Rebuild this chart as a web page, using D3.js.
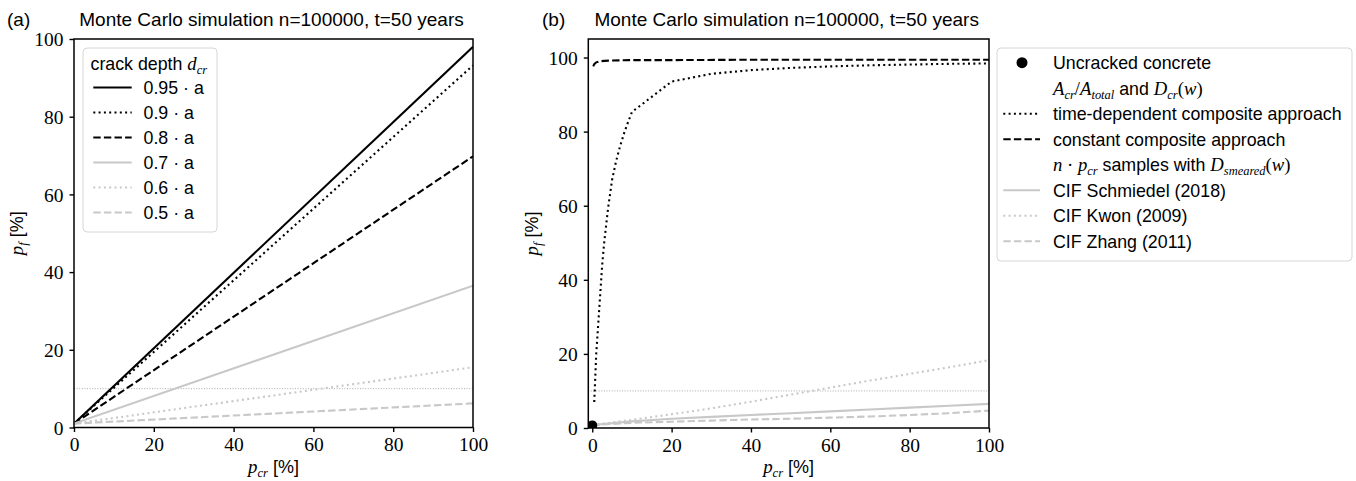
<!DOCTYPE html>
<html>
<head>
<meta charset="utf-8">
<script src="https://cdn.jsdelivr.net/npm/d3@7"></script>
<style>
  body { margin: 0; background: #fff; }
  svg { display: block; }
  .sans { font-family: "Liberation Sans", Arial, sans-serif; }
  .serif { font-family: "Liberation Serif", "Times New Roman", serif; }
</style>
</head>
<body>
<svg id="chart" width="1356" height="481"></svg>
<script>
// panel (a): failure probability vs cracked share for several crack depths
const pCrA = [0, 100];
const pf095 = [1.0, 98.0];
const pf09 = [1.0, 93.2];
const pf08 = [1.0, 69.8];
const pf07 = [1.0, 36.5];
const pf06 = [1.0, 15.5];
const pf05 = [1.0, 6.2];
const depthLabels = ['0.95', '0.9', '0.8', '0.7', '0.6', '0.5'];

// panel (b)
const uncracked = [0, 0.7];
const pCrTime = [0.5, 1, 1.5, 2, 2.5, 3, 4, 5, 6, 7, 8, 9, 10, 20, 30, 40, 50, 60, 70, 80, 90, 100];
const pfTime = [7, 20, 28, 36, 44, 50, 59.5, 67, 72, 76, 79.5, 82.5, 85.3, 93.5, 95.6, 96.6, 97.2, 97.6, 97.9, 98.1, 98.3, 98.4];
const pCrConst = [0.25, 0.5, 1, 2, 3, 5, 10, 20, 40, 60, 80, 100];
const pfConst = [97.6, 98.2, 98.7, 99.0, 99.1, 99.2, 99.3, 99.3, 99.4, 99.4, 99.4, 99.4];
const pCrCif = [0, 10, 20, 30, 40, 50, 60, 70, 80, 90, 100];
const pfSchmiedel = [0.8, 1.8, 2.5, 3.0, 3.5, 4.0, 4.5, 5.0, 5.5, 6.0, 6.5];
const pfKwon = [0.8, 2.2, 3.7, 5.3, 7.1, 9.0, 10.9, 12.8, 14.6, 16.4, 18.3];
const pfZhang = [0.8, 1.4, 1.7, 2.0, 2.3, 2.5, 2.8, 3.1, 3.5, 4.0, 4.7];

const ticks = [0, 20, 40, 60, 80, 100];
const threshold = 10;
const title = 'Monte Carlo simulation n=100000, t=50 years';

const GRAY = '#c8c8c8';
const styles = {
  solid: null,
  dotted: '2,3.3',
  dashed: '7.4,3.2'
};

const svg = d3.select('#chart');

// writes a label made of sans text and LaTeX-like math pieces
function richText(sel, parts, size, drop = 4) {
  let shifted = 0;
  parts.forEach(([txt, kind]) => {
    const t = sel.append('tspan').text(txt);
    if (kind === 's') {
      t.attr('class', 'sans');
    } else {
      t.attr('class', 'serif');
      if (kind !== 'r') t.attr('font-style', 'italic');
    }
    if (kind === 'sub') {
      t.attr('font-size', size * 0.7).attr('dy', drop - shifted);
      shifted = drop;
    } else {
      if (shifted) t.attr('dy', -shifted);
      shifted = 0;
      t.attr('font-size', kind === 's' ? size : size * 1.05);
    }
  });
}

function makePanel(cfg) {
  const x = d3.scaleLinear().domain(cfg.xDomain).range([cfg.left, cfg.right]);
  const y = d3.scaleLinear().domain(cfg.yDomain).range([cfg.bottom, cfg.top]);
  const g = svg.append('g');

  g.append('clipPath').attr('id', 'clip-' + cfg.id)
    .append('rect')
    .attr('x', cfg.left).attr('y', cfg.top)
    .attr('width', cfg.right - cfg.left).attr('height', cfg.bottom - cfg.top);

  const plot = g.append('g').attr('clip-path', `url(#clip-${cfg.id})`);

  // 10 % reference line
  plot.append('line')
    .attr('x1', cfg.left).attr('x2', cfg.right)
    .attr('y1', y(threshold)).attr('y2', y(threshold))
    .attr('stroke', '#888').attr('stroke-width', 0.7)
    .attr('stroke-dasharray', '1,1.6');

  const xAxis = g.append('g')
    .attr('transform', `translate(0,${cfg.bottom})`)
    .call(d3.axisBottom(x).tickValues(ticks).tickSize(4.5).tickPadding(5));
  const yAxis = g.append('g')
    .attr('transform', `translate(${cfg.left},0)`)
    .call(d3.axisLeft(y).tickValues(ticks).tickSize(4.5).tickPadding(6));
  [xAxis, yAxis].forEach(a => {
    a.select('.domain').remove();
    a.selectAll('.tick line').attr('stroke', '#000').attr('stroke-width', 1.4);
    a.selectAll('.tick text')
      .attr('class', 'serif')
      .attr('font-size', 19.5)
      .attr('fill', '#000');
  });
  xAxis.selectAll('.tick text').attr('dy', '0.72em');
  yAxis.selectAll('.tick text').attr('dy', '0.34em');

  g.append('rect')
    .attr('x', cfg.left).attr('y', cfg.top)
    .attr('width', cfg.right - cfg.left).attr('height', cfg.bottom - cfg.top)
    .attr('fill', 'none').attr('stroke', '#000').attr('stroke-width', 1.5);

  // labels
  g.append('text').attr('class', 'sans').attr('font-size', 19)
    .attr('x', cfg.tagX).attr('y', 26).text(cfg.tag);
  g.append('text').attr('class', 'sans').attr('font-size', 19)
    .attr('text-anchor', 'middle')
    .attr('x', (cfg.left + cfg.right) / 2 - 2).attr('y', 26).text(title);

  const xl = g.append('text').attr('text-anchor', 'middle')
    .attr('x', (cfg.left + cfg.right) / 2).attr('y', 473);
  richText(xl, [['p', 'i'], ['cr', 'sub'], [' [%]', 's']], 18, 3.5);

  const yl = g.append('text').attr('text-anchor', 'middle')
    .attr('transform', `translate(${cfg.yLabelX},${(cfg.top + cfg.bottom) / 2}) rotate(-90)`);
  richText(yl, [['p', 'i'], ['f', 'sub'], [' [%]', 's']], 18);

  return { x, y, plot };
}

function drawSeries(panel, xs, ys, color, dash) {
  const line = d3.line().x(d => panel.x(d[0])).y(d => panel.y(d[1]));
  panel.plot.append('path')
    .datum(xs.map((v, i) => [v, ys[i]]))
    .attr('d', line)
    .attr('fill', 'none')
    .attr('stroke', color)
    .attr('stroke-width', 2.1)
    .attr('stroke-dasharray', dash);
}

function legendHandle(g, x1, x2, yy, color, dash) {
  g.append('line')
    .attr('x1', x1).attr('x2', x2).attr('y1', yy).attr('y2', yy)
    .attr('stroke', color).attr('stroke-width', 2.1)
    .attr('stroke-dasharray', dash);
}

// ---- panel (a)
const pa = makePanel({
  id: 'a', tag: '(a)', tagX: 7, yLabelX: 23,
  left: 74, right: 473, top: 39, bottom: 427.5,
  xDomain: [0, 100], yDomain: [0, 100]
});

const seriesA = [
  [pf095, '#000', styles.solid],
  [pf09, '#000', styles.dotted],
  [pf08, '#000', styles.dashed],
  [pf07, GRAY, styles.solid],
  [pf06, GRAY, styles.dotted],
  [pf05, GRAY, styles.dashed]
];
seriesA.forEach(s => drawSeries(pa, pCrA, s[0], s[1], s[2]));

const legA = svg.append('g');
legA.append('rect')
  .attr('x', 83).attr('y', 48).attr('width', 134).attr('height', 184)
  .attr('rx', 4).attr('fill', '#fff').attr('fill-opacity', 0.8)
  .attr('stroke', '#d6d6d6').attr('stroke-width', 1);
const legATitle = legA.append('text').attr('x', 90.5).attr('y', 69.5);
richText(legATitle, [['crack depth ', 's'], ['d', 'i'], ['cr', 'sub']], 17.8);
seriesA.forEach((s, i) => {
  const yy = 87.5 + 25 * i;
  legendHandle(legA, 93.3, 131.7, yy, s[1], s[2]);
  legA.append('text').attr('class', 'sans').attr('font-size', 17.8)
    .attr('x', 143.5).attr('y', yy + 6.3)
    .text(depthLabels[i] + ' \u00b7 a');
});

// ---- panel (b)
const pb = makePanel({
  id: 'b', tag: '(b)', tagX: 542, yLabelX: 538,
  left: 588.3, right: 989, top: 39, bottom: 428,
  xDomain: [-1, 100], yDomain: [0, 105]
});

drawSeries(pb, pCrCif, pfSchmiedel, GRAY, styles.solid);
drawSeries(pb, pCrCif, pfKwon, GRAY, styles.dotted);
drawSeries(pb, pCrCif, pfZhang, GRAY, styles.dashed);
drawSeries(pb, pCrTime, pfTime, '#000', styles.dotted);
drawSeries(pb, pCrConst, pfConst, '#000', styles.dashed);
pb.plot.append('circle')
  .attr('cx', pb.x(uncracked[0])).attr('cy', pb.y(uncracked[1]))
  .attr('r', 5).attr('fill', '#000');

const legB = svg.append('g');
legB.append('rect')
  .attr('x', 997).attr('y', 48).attr('width', 355).attr('height', 213)
  .attr('rx', 4).attr('fill', '#fff').attr('fill-opacity', 0.8)
  .attr('stroke', '#d6d6d6').attr('stroke-width', 1);

const legBRows = [
  { handle: 'dot', parts: [['Uncracked concrete', 's']] },
  { handle: null, parts: [['A', 'i'], ['cr', 'sub'], ['/', 'r'], ['A', 'i'], ['total', 'sub'], [' and ', 's'], ['D', 'i'], ['cr', 'sub'], ['(', 'r'], ['w', 'i'], [')', 'r']] },
  { handle: ['#000', styles.dotted], parts: [['time-dependent composite approach', 's']] },
  { handle: ['#000', styles.dashed], parts: [['constant composite approach', 's']] },
  { handle: null, parts: [['n', 'i'], [' \u00b7 ', 'r'], ['p', 'i'], ['cr', 'sub'], [' samples with ', 's'], ['D', 'i'], ['smeared', 'sub'], ['(', 'r'], ['w', 'i'], [')', 'r']] },
  { handle: [GRAY, styles.solid], parts: [['CIF Schmiedel (2018)', 's']] },
  { handle: [GRAY, styles.dotted], parts: [['CIF Kwon (2009)', 's']] },
  { handle: [GRAY, styles.dashed], parts: [['CIF Zhang (2011)', 's']] }
];
legBRows.forEach((row, i) => {
  const yy = 62.7 + 25.5 * i;
  if (row.handle === 'dot') {
    legB.append('circle').attr('cx', 1022).attr('cy', yy).attr('r', 5.5).attr('fill', '#000');
  } else if (row.handle) {
    legendHandle(legB, 1003.3, 1040, yy, row.handle[0], row.handle[1]);
  }
  const t = legB.append('text').attr('x', 1053).attr('y', yy + 6.3);
  richText(t, row.parts, 17.8);
});
</script>
</body>
</html>
